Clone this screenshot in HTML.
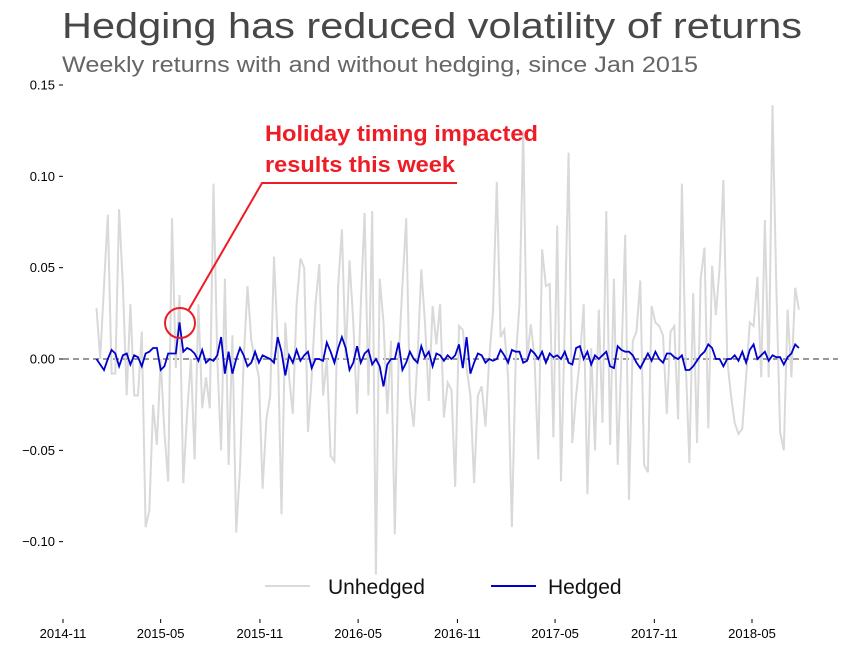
<!DOCTYPE html>
<html><head><meta charset="utf-8"><style>
html,body{margin:0;padding:0;background:#fff;}
svg{display:block;font-family:"Liberation Sans","DejaVu Sans",sans-serif;}
</style></head><body>
<svg id="chart" width="850" height="652" viewBox="0 0 850 652" xmlns="http://www.w3.org/2000/svg">
<text x="62" y="38" font-size="36" fill="#474747" textLength="740" lengthAdjust="spacingAndGlyphs">Hedging has reduced volatility of returns</text>
<text x="62" y="72" font-size="22" fill="#666" textLength="636" lengthAdjust="spacingAndGlyphs">Weekly returns with and without hedging, since Jan 2015</text>
<g id="yaxis"></g>
<g id="xaxis"></g>
<line x1="63" y1="359" x2="838" y2="359" stroke="#777" stroke-width="1.5" stroke-dasharray="6,4"/>
<g id="series"></g>
<g>
<text x="265" y="141" font-size="22" font-weight="bold" fill="#ee1c25" textLength="273" lengthAdjust="spacingAndGlyphs">Holiday timing impacted</text>
<text x="265" y="172" font-size="22" font-weight="bold" fill="#ee1c25" textLength="190" lengthAdjust="spacingAndGlyphs">results this week</text>
<polyline points="457,183 262,183 188,311" fill="none" stroke="#ee1c25" stroke-width="2"/>
<circle cx="180" cy="323" r="15" fill="none" stroke="#ee1c25" stroke-width="2"/>
</g>
<g>
<line x1="265" y1="586" x2="310" y2="586" stroke="#d9d9d9" stroke-width="2"/>
<text x="328" y="594" font-size="21" fill="#111">Unhedged</text>
<line x1="491" y1="586" x2="536" y2="586" stroke="#0000cc" stroke-width="2"/>
<text x="548" y="594" font-size="21" fill="#111">Hedged</text>
</g>
</svg>
<script>
const yTicks = [0.15, 0.10, 0.05, 0.00, -0.05, -0.10];
const xTickLabels = ["2014-11","2015-05","2015-11","2016-05","2016-11","2017-05","2017-11","2018-05"];
const startDate = "2015-01-02";
const unhedged = [
0.028,0.0,0.04,0.079,-0.008,-0.008,0.082,0.04,-0.02,0.03,
-0.02,-0.02,0.015,-0.092,-0.083,-0.025,-0.047,0.0,-0.04,-0.067,
0.077,-0.005,0.035,-0.068,-0.03,0.0,-0.055,0.03,-0.027,-0.01,
-0.027,0.096,0.0,-0.05,0.044,-0.058,0.013,-0.095,-0.06,0.0,
0.04,0.01,0.0,-0.01,-0.071,-0.033,-0.02,0.056,0.01,-0.085,
0.02,-0.01,-0.03,0.03,0.055,0.05,-0.04,-0.01,0.03,0.052,
-0.02,0.0,-0.053,-0.056,0.04,0.071,0.0,0.054,0.02,-0.03,
0.03,0.08,-0.02,0.081,-0.118,0.044,0.02,-0.03,0.01,-0.096,
0.0,0.04,0.077,-0.02,-0.037,0.0,0.049,0.02,-0.023,0.029,
0.008,0.03,-0.032,-0.013,-0.017,-0.07,0.018,0.016,-0.005,-0.02,
-0.068,-0.02,-0.015,-0.037,0.0,0.026,0.097,0.012,0.016,-0.01,
-0.092,0.0,0.03,0.125,0.0,0.019,0.0,-0.055,0.06,0.04,
0.041,-0.043,0.073,-0.067,0.02,0.113,-0.046,-0.02,0.0,0.03,
-0.074,0.006,-0.05,0.027,-0.035,0.081,-0.047,0.044,-0.058,0.0,
0.068,-0.077,0.01,0.015,0.043,-0.058,-0.062,0.029,0.02,0.018,
0.013,-0.03,0.015,0.018,-0.033,0.096,0.0,-0.057,0.036,-0.046,
0.044,0.061,-0.038,0.051,0.024,0.05,0.098,0.0,-0.02,-0.035,
-0.041,-0.038,-0.01,0.02,0.018,0.045,-0.01,0.076,-0.01,0.139,
0.04,-0.04,-0.05,0.027,-0.01,0.039,0.027];
const hedged = [
0.0,-0.003,-0.006,0.0,0.005,0.003,-0.004,0.002,0.003,-0.003,
0.002,0.001,-0.004,0.003,0.004,0.006,0.006,-0.006,-0.004,0.003,
0.003,0.003,0.02,0.004,0.006,0.005,0.003,-0.001,0.005,-0.002,
0.0,-0.001,0.002,0.012,-0.008,0.004,-0.008,0.0,0.006,0.002,
-0.004,-0.002,0.004,-0.002,0.002,0.001,0.0,-0.002,0.012,0.004,
-0.009,0.002,-0.002,0.005,-0.001,0.002,0.004,-0.005,0.0,0.0,
-0.001,0.009,0.004,-0.002,0.006,0.012,0.006,-0.006,-0.002,0.007,
-0.002,0.003,0.005,-0.003,0.0,-0.004,-0.015,-0.003,0.0,0.0,
0.009,-0.006,-0.002,0.004,0.0,-0.002,0.007,0.001,0.004,-0.004,
0.003,0.002,-0.001,0.002,0.0,0.002,0.008,-0.005,0.012,-0.008,
-0.002,0.003,0.002,-0.002,0.0,-0.001,0.0,0.005,0.002,-0.002,
0.005,0.004,0.004,-0.002,-0.001,0.005,0.003,0.0,0.004,-0.002,
0.003,0.001,0.002,0.0,0.004,-0.002,-0.003,0.006,0.007,0.0,
0.004,-0.003,0.002,0.0,0.002,0.004,-0.004,-0.005,0.007,0.005,
0.004,0.004,0.002,-0.002,-0.005,-0.001,0.003,-0.001,0.004,0.0,
-0.002,0.003,0.003,0.001,0.0,0.002,-0.006,-0.006,-0.004,-0.001,
0.002,0.004,0.008,0.006,0.0,0.0,-0.004,0.0,0.0,0.002,
-0.001,0.004,-0.002,0.005,0.008,0.0,0.002,0.004,-0.001,0.002,
0.001,0.001,-0.003,0.001,0.003,0.008,0.006];

const NS = "http://www.w3.org/2000/svg";
const DAY = 86400000;
const x0Date = Date.UTC(2014,10,1), x1Date = Date.UTC(2018,4,1);
function xScale(t){ return 63 + (t - x0Date) / (x1Date - x0Date) * (752 - 63); }
function yScale(v){ return 359 - v * 1826.7; }
const t0 = Date.parse(startDate + "T00:00:00Z");

const yAxis = document.getElementById('yaxis');
yTicks.forEach(v => {
  const y = yScale(v);
  const tk = document.createElementNS(NS,'line');
  
  
  tk.setAttribute('x1',59); tk.setAttribute('x2',63);
  tk.setAttribute('y1',y); tk.setAttribute('y2',y);
  tk.setAttribute('stroke','#000'); tk.setAttribute('stroke-width','1');
  yAxis.appendChild(tk);
  const tx = document.createElementNS(NS,'text');
  
  
  tx.setAttribute('x',55); tx.setAttribute('y',y+4.5);
  tx.setAttribute('text-anchor','end'); tx.setAttribute('font-size','13');
  tx.textContent = v.toFixed(2).replace('-','\u2212');
  yAxis.appendChild(tx);
});

const xAxis = document.getElementById('xaxis');
xTickLabels.forEach(lbl => {
  const [yy,mm] = lbl.split('-').map(Number);
  const x = xScale(Date.UTC(yy,mm-1,1));
  const tk = document.createElementNS(NS,'line');
  
  
  tk.setAttribute('x1',x); tk.setAttribute('x2',x);
  tk.setAttribute('y1',619); tk.setAttribute('y2',623);
  tk.setAttribute('stroke','#000'); tk.setAttribute('stroke-width','1');
  xAxis.appendChild(tk);
  const tx = document.createElementNS(NS,'text');
  
  
  tx.setAttribute('x',x); tx.setAttribute('y',638);
  tx.setAttribute('text-anchor','middle'); tx.setAttribute('font-size','13');
  tx.textContent = lbl;
  xAxis.appendChild(tx);
});

function pts(arr){ return arr.map((v,i)=> xScale(t0 + i*7*DAY).toFixed(1)+','+yScale(v).toFixed(1)).join(' '); }
const g = document.getElementById('series');
const pu = document.createElementNS(NS,'polyline');


pu.setAttribute('points',pts(unhedged));
pu.setAttribute('fill','none'); pu.setAttribute('stroke','#d9d9d9'); pu.setAttribute('stroke-width','2');
g.appendChild(pu);
const ph = document.createElementNS(NS,'polyline');


ph.setAttribute('points',pts(hedged));
ph.setAttribute('fill','none'); ph.setAttribute('stroke','#0000cc'); ph.setAttribute('stroke-width','1.8');
g.appendChild(ph);
</script>
</body></html>
